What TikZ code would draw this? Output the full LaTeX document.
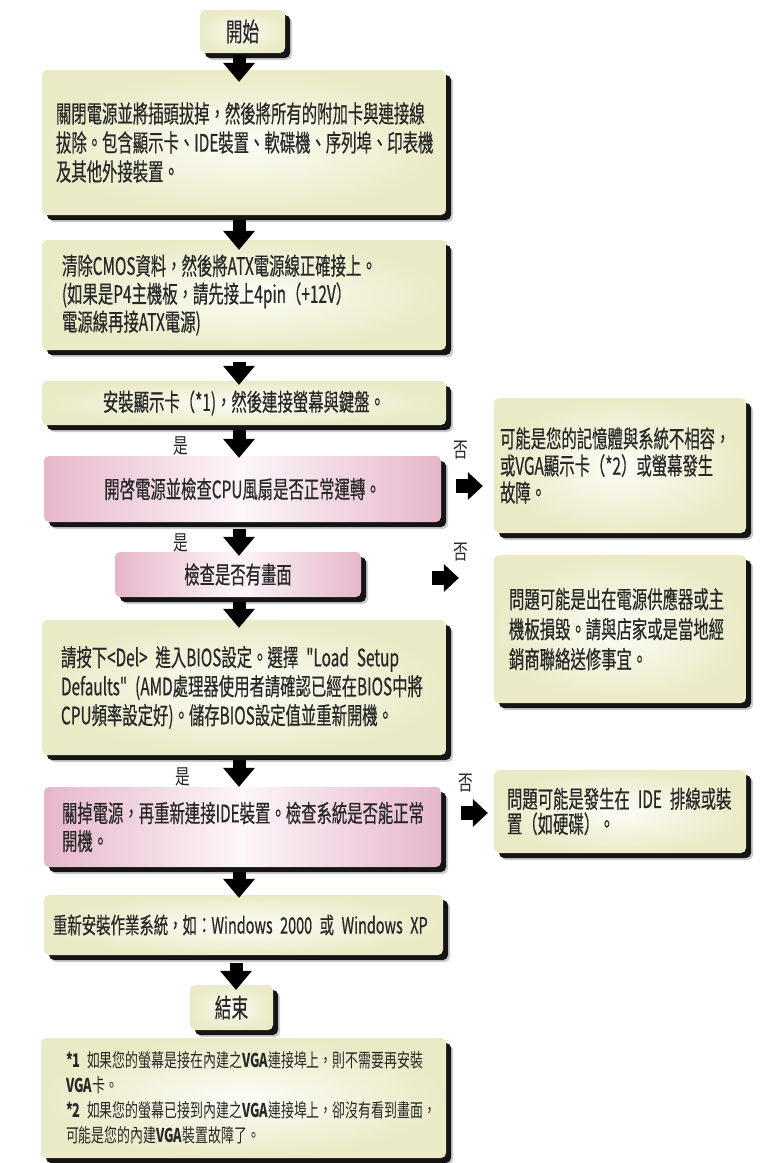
\documentclass[tikz,border=0pt]{standalone}
\usepackage{fontspec}
\usetikzlibrary{arrows.meta,shadows,calc}
\newfontfamily\cjk[FakeStretch=0.64,FakeBold=0.5]{Noto Sans CJK TC}
\newfontfamily\cjkl[FakeStretch=0.7]{Noto Sans CJK TC}
\newfontfamily\cjkfn[FakeStretch=0.68]{Noto Sans CJK TC}
\newcommand{\mtx}[1]{\cjk\fontsize{24}{#1}\selectfont}
\definecolor{yedge}{RGB}{234,234,198}
\definecolor{ycent}{RGB}{252,252,246}
\definecolor{pedge}{RGB}{230,182,203}
\definecolor{pcent}{RGB}{252,246,249}
\definecolor{txt}{RGB}{40,40,40}
\begin{document}
\begin{tikzpicture}[x=1pt,y=-1pt,
  shadowed/.style={drop shadow={shadow xshift=7pt,shadow yshift=-7pt,opacity=0.2,fill=black},
                   drop shadow={shadow xshift=5pt,shadow yshift=-5pt,opacity=0.9,fill=black}},
  basebox/.style={rounded corners=5pt, shadowed, text=txt, inner ysep=0pt},
  ybox/.style={basebox, inner color=ycent, outer color=yedge},
  pbox/.style={basebox, left color=pedge, right color=pedge, middle color=pcent},
  darrow/.style={line width=13pt, black, -{Triangle[width=32pt,length=19pt,line width=0pt]}},
  rarrow/.style={line width=14pt, black, -{Triangle[width=28pt,length=15pt,line width=0pt]}},
  lbl/.style={text=txt, font=\cjkl\fontsize{21}{21}\selectfont, inner sep=0pt},
]
\useasboundingbox[fill=white] (0,0) rectangle (763,1163);
\coordinate (ax) at (239,0);

\node[ybox, minimum width=85pt, minimum height=43pt, font=\cjk\fontsize{26}{26}\selectfont] (start) at (242.5,31.5) {開始};

\node[ybox, minimum width=404pt, minimum height=145pt, text width=376pt, inner xsep=14pt, align=left, font={\mtx{29}}] (b1) at (244,142.5)
 {關閉電源並將插頭拔掉，然後將所有的附加卡與連接線\\拔除。包含顯示卡、IDE裝置、軟碟機、序列埠、印表機\\及其他外接裝置。};

\node[ybox, minimum width=404pt, minimum height=110pt, text width=364pt, inner xsep=20pt, align=left, font={\mtx{28}}] (b2) at (244,295)
 {清除CMOS資料，然後將ATX電源線正確接上。\\(如果是P4主機板，請先接上4pin（+12V）\\電源線再接ATX電源)};

\node[ybox, minimum width=404pt, minimum height=44pt, font={\mtx{28}}] (b3) at (244,403)
 {安裝顯示卡（*1)，然後連接螢幕與鍵盤。};

\node[pbox, minimum width=397pt, minimum height=66pt, font={\mtx{28}}] (p4) at (242.5,489)
 {開啓電源並檢查CPU風扇是否正常運轉。};

\node[ybox, minimum width=252pt, minimum height=135pt, text width=240pt, inner xsep=6pt, align=left, font={\mtx{27}}] (rA) at (620,465.5)
 {可能是您的記憶體與系統不相容，\\或VGA顯示卡（*2）或螢幕發生\\故障。};

\node[pbox, minimum width=246pt, minimum height=45pt, font={\mtx{28}}] (p5) at (238,574.5)
 {檢查是否有畫面};

\node[ybox, minimum width=252pt, minimum height=148pt, text width=222pt, inner xsep=15pt, align=left, font={\mtx{30}}] (rB) at (620,629)
 {問題可能是出在電源供應器或主\\機板損毀。請與店家或是當地經\\銷商聯絡送修事宜。};

\node[ybox, minimum width=404pt, minimum height=135pt, text width=366pt, inner xsep=19pt, align=left, font={\mtx{29}}] (b6) at (244,687.5)
 {\mbox{請按下<Del> 進入BIOS設定。選擇 "Load Setup}\\\mbox{Defaults" (AMD處理器使用者請確認已經在BIOS中將}\\\mbox{CPU頻率設定好)。儲存BIOS設定值並重新開機。}};

\node[pbox, minimum width=397pt, minimum height=80pt, text width=361pt, inner xsep=18pt, align=left, font={\mtx{28}}] (p7) at (242.5,827)
 {關掉電源，再重新連接IDE裝置。檢查系統是否能正常\\開機。};

\node[ybox, minimum width=252pt, minimum height=83pt, text width=226pt, inner xsep=13pt, align=left, font={\mtx{25}}] (rC) at (620,811.5)
 {\mbox{問題可能是發生在 IDE 排線或裝}\\置（如硬碟）。};

\node[ybox, minimum width=399pt, minimum height=60pt, text width=381pt, inner xsep=9pt, align=left, font={\cjk\fontsize{22.5}{28}\selectfont}] (b8) at (243.5,925)
 {\mbox{重新安裝作業系統，如：Windows 2000 或 Windows XP}};

\node[ybox, minimum width=83pt, minimum height=45pt, font=\cjk\fontsize{26}{26}\selectfont] (end) at (231.5,1007.5) {結束};

\node[ybox, minimum width=405pt, minimum height=120pt, text width=355pt, inner xsep=25pt, align=left, font=\cjkfn\fontsize{19}{25}\selectfont] (fn) at (243.5,1098)
 {\mbox{\textbf{*1} 如果您的螢幕是接在內建之\textbf{VGA}連接埠上，則不需要再安裝}\\\textbf{VGA}卡。\\\mbox{\textbf{*2} 如果您的螢幕已接到內建之\textbf{VGA}連接埠上，卻沒有看到畫面，}\\可能是您的內建\textbf{VGA}裝置故障了。};

% labels
\node[lbl] (yes1) at (181,446) {是};
\node[lbl] (yes2) at (181,543) {是};
\node[lbl] (yes3) at (183,777) {是};
\node[lbl] (no1) at (461,450) {否};
\node[lbl] (no2) at (461,552) {否};
\node[lbl] (no3) at (466,783) {否};

% down arrows
\draw[darrow] ($(start.south -| ax)+(0,2)$) -- ($(b1.north -| ax)+(0,12)$);
\draw[darrow] ($(b1.south -| ax)+(0,5)$) -- ($(b2.north -| ax)+(0,10)$);
\draw[darrow] ($(b2.south -| ax)+(0,12)$) -- ($(b3.north -| ax)+(0,4)$);
\draw[darrow] ($(b3.south -| ax)+(0,5)$) -- ($(p4.north -| ax)+(0,2)$);
\draw[darrow] ($(p4.south -| ax)+(0,7)$) -- ($(p5.north -| ax)+(0,4)$);
\draw[darrow] ($(p5.south -| ax)+(0,5)$) -- ($(b6.north -| ax)+(0,8)$);
\draw[darrow] ($(b6.south -| ax)+(0,5)$) -- ($(p7.north -| ax)+(0,0)$);
\draw[darrow] ($(p7.south -| ax)+(0,5)$) -- ($(b8.north -| ax)+(0,3)$);
\draw[darrow] ($(b8.south -| ax)+(-3,8)$) -- ($(end.north -| ax)+(-3,5)$);

% right arrows
\draw[rarrow] ($(p4.east)+(15,-3)$) -- ($(p4.east -| rA.west)+(-11,-3)$);
\draw[rarrow] ($(p5.east)+(71,3.5)$) -- ($(p5.east -| rB.west)+(-35,3.5)$);
\draw[rarrow] ($(p7.east |- rC.west)+(20,1.5)$) -- ($(rC.west)+(-6,1.5)$);
\end{tikzpicture}
\end{document}
